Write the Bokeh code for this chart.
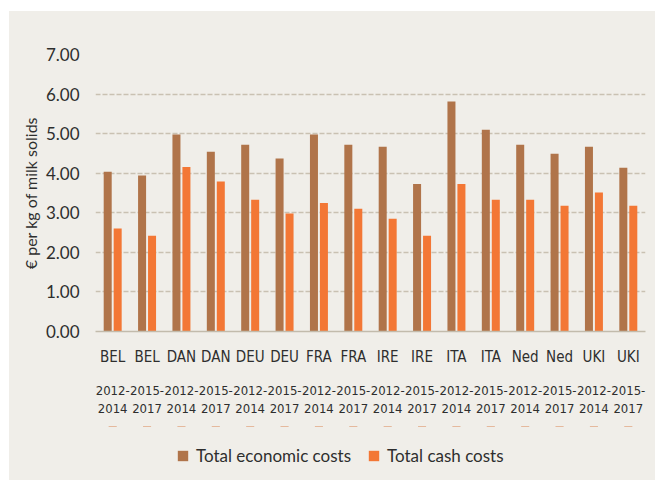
from bokeh.plotting import figure
from bokeh.layouts import column
from bokeh.models import (ColumnDataSource, FactorRange, Range1d, CategoricalAxis,
                          NumeralTickFormatter, FixedTicker, Legend, LegendItem)
from bokeh.transform import dodge
from bokeh.embed import file_html
from bokeh.resources import INLINE

countries = ["BEL", "BEL", "DAN", "DAN", "DEU", "DEU", "FRA", "FRA",
             "IRE", "IRE", "ITA", "ITA", "Ned", "Ned", "UKI", "UKI"]
periods_top = ["2012-", "2015-"] * 8
periods_bottom = ["2014", "2017"] * 8
economic = [4.04, 3.94, 4.98, 4.54, 4.72, 4.37, 4.98, 4.72,
            4.67, 3.73, 5.81, 5.10, 4.72, 4.49, 4.67, 4.14]
cash = [2.60, 2.42, 4.16, 3.79, 3.33, 2.98, 3.25, 3.10,
        2.85, 2.42, 3.73, 3.33, 3.33, 3.18, 3.51, 3.18]
y_ticks = [0, 1, 2, 3, 4, 5, 6, 7]
series_names = ["Total economic costs", "Total cash costs"]

keys = [f"{c} {a}{b}" for c, a, b in zip(countries, periods_top, periods_bottom)]
src = ColumnDataSource(dict(x=keys, economic=economic, cash=cash))


def unique_labels(labels):
    # make repeated labels distinct factors with invisible zero-width spaces
    seen = {}
    out = []
    for l in labels:
        n = seen.get(l, 0)
        seen[l] = n + 1
        out.append(l + "\u200b" * n)
    return out


BG = "#f0eee9"
TXT = "#2e2e2e"
ECON = "#b0744a"
CASH = "#f37735"
FONT = "Lato"
NARROW = "DejaVu Sans Condensed"

p = figure(x_range=FactorRange(factors=keys), y_range=Range1d(0, 7),
           frame_width=550, frame_height=277, x_axis_location=None,
           min_border_left=86, min_border_right=10, min_border_top=43, min_border_bottom=95,
           output_backend="svg", toolbar_location=None,
           background_fill_color=BG, border_fill_color=BG, outline_line_color=None)

r1 = p.vbar(x=dodge("x", -0.145, range=p.x_range), top="economic", width=0.233,
            source=src, color=ECON, line_color=None)
r2 = p.vbar(x=dodge("x", 0.145, range=p.x_range), top="cash", width=0.233,
            source=src, color=CASH, line_color=None)

# y axis
p.yaxis.ticker = FixedTicker(ticks=y_ticks)
p.yaxis.formatter = NumeralTickFormatter(format="0.00")
p.yaxis.axis_line_color = None
p.yaxis.major_tick_line_color = None
p.yaxis.minor_tick_line_color = None
p.yaxis.major_label_standoff = 10
p.yaxis.major_label_text_font = FONT
p.yaxis.major_label_text_font_size = "17px"
p.yaxis.major_label_text_color = TXT
p.yaxis.axis_label = "€ per kg of milk solids"
p.yaxis.axis_label_text_font = FONT
p.yaxis.axis_label_text_font_size = "16px"
p.yaxis.axis_label_text_font_style = "normal"
p.yaxis.axis_label_text_color = TXT
p.yaxis.axis_label_standoff = 3

# grid
p.xgrid.grid_line_color = None
p.ygrid.grid_line_color = "#c9c1b2"
p.ygrid.grid_line_width = 1.5
p.ygrid.grid_line_dash = "5 2"

# label rows, each on its own categorical range aligned with the bars
rows = [("countries", countries, 16, "15px", True),
        ("ptop", periods_top, 14, "13px", False),
        ("pbot", periods_bottom, 0, "13px", False)]
for name, labels, standoff, size, show_line in rows:
    p.extra_x_ranges[name] = FactorRange(factors=unique_labels(labels))
    ax = CategoricalAxis(x_range_name=name)
    ax.major_tick_line_color = None
    ax.minor_tick_line_color = None
    ax.major_tick_out = 0
    ax.major_tick_in = 0
    ax.major_label_standoff = standoff
    ax.major_label_text_font = NARROW
    ax.major_label_text_font_size = size
    ax.major_label_text_color = TXT
    if show_line:
        ax.axis_line_color = "#c2bbac"
        ax.axis_line_width = 1.5
    else:
        ax.axis_line_color = None
    p.add_layout(ax, "below")

# legend strip below the chart (same background); its bars are out of view
lg = figure(width=646, height=54, x_range=FactorRange(factors=keys), y_range=Range1d(-2, -1),
            x_axis_location=None, y_axis_location=None,
            min_border=0, output_backend="svg", toolbar_location=None,
            background_fill_alpha=0, border_fill_color=BG, outline_line_color=None)
lg.grid.visible = False
l1 = lg.vbar(x="x", top="economic", width=0.233, source=src, color=ECON, line_color=None)
l2 = lg.vbar(x="x", top="cash", width=0.233, source=src, color=CASH, line_color=None)
legend = Legend(items=[LegendItem(label=series_names[0], renderers=[l1]),
                       LegendItem(label=series_names[1], renderers=[l2])],
                orientation="horizontal", location=(81, 14),
                glyph_width=13, glyph_height=13, label_standoff=7, spacing=16,
                padding=4, margin=0,
                label_text_font=FONT, label_text_font_size="17px", label_text_color=TXT,
                background_fill_alpha=0, border_line_color=None)
lg.add_layout(legend, "center")

layout = column(p, lg, spacing=0, margin=(11, 0, 0, 9),
                styles={"background-color": BG})
open("out.html", "w").write(file_html(layout, INLINE))
